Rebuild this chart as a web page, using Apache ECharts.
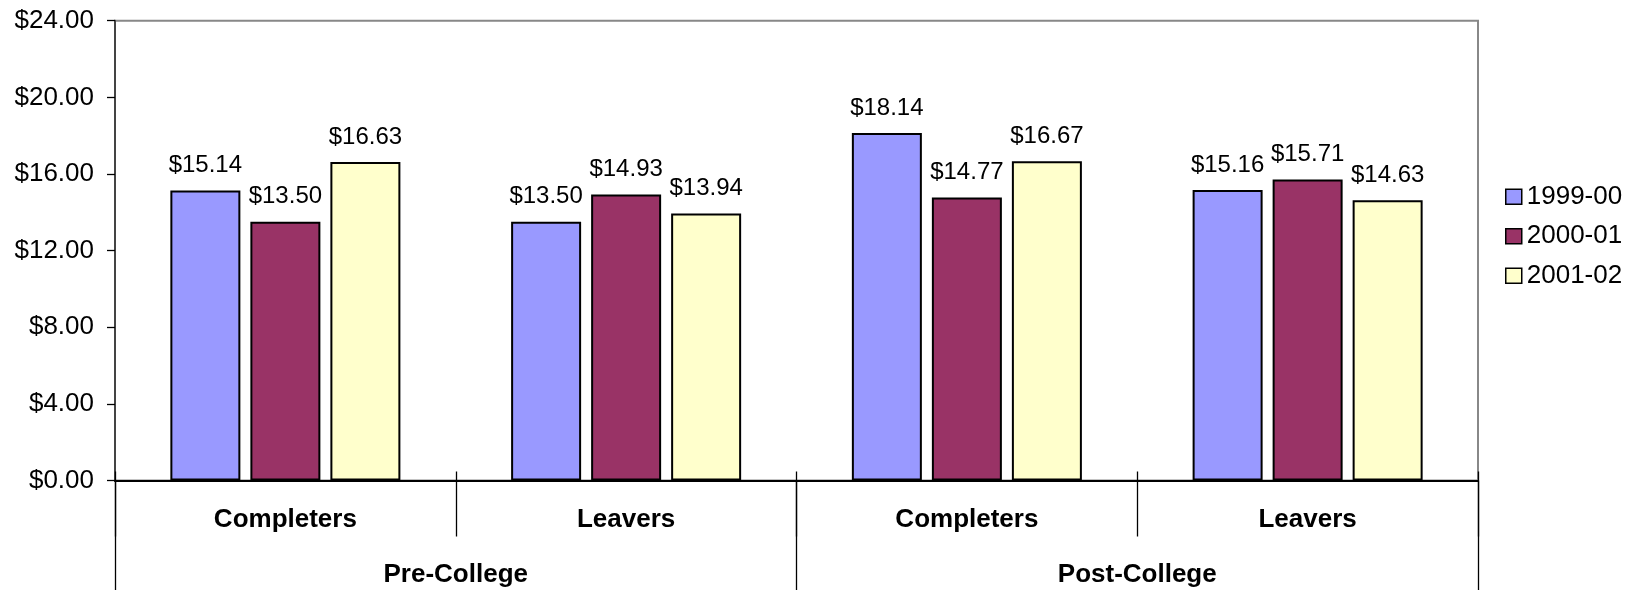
<!DOCTYPE html>
<html>
<head>
<meta charset="utf-8">
<script src="https://cdn.jsdelivr.net/npm/echarts@6/dist/echarts.min.js"></script>
<style>
html,body{margin:0;padding:0;background:#fff;}
#c{width:1628px;height:590px;}
</style>
</head>
<body>
<div id="c"></div>
<script>
const categories = ['Completers', 'Leavers', 'Completers', 'Leavers'];
const groups = ['Pre-College', 'Post-College'];
const seriesNames = ['1999-00', '2000-01', '2001-02'];
const s1999 = [15.14, 13.50, 18.14, 15.16];
const s2000 = [13.50, 14.93, 14.77, 15.71];
const s2001 = [16.63, 13.94, 16.67, 14.63];
const yTicks = { min: 0, max: 24, interval: 4 };
const colors = ['#9999FF', '#993366', '#FFFFCC'];

const FONT = '"Liberation Sans", Arial, sans-serif';
const chart = echarts.init(document.getElementById('c'), null, { renderer: 'canvas' });

function mkSeries(name, data, color) {
  return {
    name: name,
    type: 'bar',
    xAxisIndex: 0,
    data: data,
    barWidth: 70,
    barGap: '14.3%',
    itemStyle: { color: color, borderColor: '#000', borderWidth: 2 },
    label: {
      show: true,
      position: 'top',
      distance: 13,
      color: '#000',
      fontFamily: FONT,
      fontSize: 24,
      formatter: p => '$' + p.value.toFixed(2)
    }
  };
}

chart.setOption({
  animation: false,
  backgroundColor: '#fff',
  grid: {
    left: 115, right: 150, top: 20.7, bottom: 109.5,
    show: true, borderColor: '#888', borderWidth: 2, backgroundColor: 'transparent'
  },
  legend: {
    orient: 'vertical',
    left: 1500,
    top: 178.7,
    itemWidth: 16,
    itemHeight: 15,
    itemGap: 13.5,
    icon: 'rect',
    data: seriesNames,
    textStyle: { fontFamily: FONT, fontSize: 26, color: '#000', lineHeight: 26 },
    itemStyle: { borderColor: '#000', borderWidth: 1.5 }
  },
  xAxis: [
    {
      type: 'category',
      data: categories,
      position: 'bottom',
      axisLine: { show: true, onZero: false, lineStyle: { color: '#000', width: 2 } },
      axisTick: { show: true, length: 56, lineStyle: { color: '#000', width: 1.3 } },
      axisLabel: { margin: 26, fontFamily: FONT, fontSize: 26, fontWeight: 'bold', color: '#000' }
    },
    {
      type: 'category',
      data: groups,
      position: 'bottom',
      offset: 0,
      axisLine: { show: false },
      axisTick: { show: true, length: 110, lineStyle: { color: '#000', width: 1.3 } },
      axisLabel: { margin: 81.5, fontFamily: FONT, fontSize: 26, fontWeight: 'bold', color: '#000' }
    },
    {
      type: 'category',
      data: categories,
      position: 'bottom',
      offset: 0,
      axisLine: { show: false },
      axisTick: { show: true, inside: true, length: 9, lineStyle: { color: '#000', width: 1.3 } },
      axisLabel: { show: false }
    }
  ],
  yAxis: {
    type: 'value',
    min: yTicks.min,
    max: yTicks.max,
    interval: yTicks.interval,
    axisLine: { show: true, lineStyle: { color: '#444', width: 2 } },
    axisTick: { show: true, length: 8, lineStyle: { color: '#000', width: 1.3 } },
    splitLine: { show: false },
    axisLabel: {
      margin: 21,
      fontFamily: FONT,
      fontSize: 26,
      color: '#000',
      formatter: v => '$' + v.toFixed(2)
    }
  },
  series: [
    mkSeries(seriesNames[0], s1999, colors[0]),
    mkSeries(seriesNames[1], s2000, colors[1]),
    mkSeries(seriesNames[2], s2001, colors[2])
  ]
});
</script>
</body>
</html>
